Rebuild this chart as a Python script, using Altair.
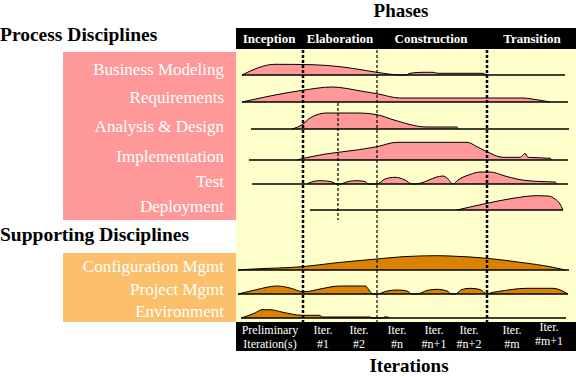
import altair as alt
import pandas as pd

FONT = "Times New Roman, Liberation Serif, serif"
W, H = 576, 377

PINK = "#FF9999"
ORANGE_BOX = "#FCC06C"
ORANGE = "#DA8200"
YELLOW = "#FFFFCC"

# ---------------- data: disciplines and their effort profiles ----------------
process = ["Business Modeling", "Requirements", "Analysis & Design",
           "Implementation", "Test", "Deployment"]
supporting = ["Configuration Mgmt", "Project Mgmt", "Environment"]

bm_t = [242, 275, 312, 340, 377, 390, 400, 406, 410, 422, 433, 438, 482, 487]
bm_h = [0, 10.7, 10.3, 8.3, 2.7, 0.8, 0, 0, 1.7, 2.7, 2.7, 1.7, 1.7, 0]

rq_t = [242, 302, 332, 363, 377, 400, 523, 532, 550]
rq_h = [0, 11.6, 15, 10.6, 8.3, 4, 4, 3, 0]

ad_t = [292, 302, 310, 317, 327, 357, 377, 393, 427, 457, 458]
ad_h = [0, 4.3, 11, 14.3, 16, 16, 14.3, 9.3, 2, 2, 0]

im_t = [297, 308, 377, 397, 467, 477, 487, 503, 520, 523, 525, 528, 550, 552]
im_h = [0, 2.7, 13.3, 17.7, 17.7, 13.3, 8.3, 2.7, 2.7, 5, 6.7, 2.7, 1.7, 0]

te_t = [307, 313, 320, 330, 338, 340, 348, 357, 365, 368, 377, 385, 395, 405,
        412, 415, 443, 447, 453, 458, 470, 480, 490, 505, 518, 540, 555, 557]
te_h = [0, 2.5, 3.3, 2.5, 0, 0, 2.5, 3.3, 2.5, 0, 0, 5, 6.7, 4,
        0, 0, 8, 6, 0, 4, 9.5, 12, 12, 8, 4.7, 2.5, 2, 0]

de_t = [457, 487, 513, 537, 548, 555, 560, 563]
de_h = [0, 6.7, 11.7, 14.3, 14, 11, 6, 0]

cm_t = [238, 250, 302, 337, 377, 403, 437, 450, 487, 523, 550, 565]
cm_h = [0, 0.8, 3.3, 7.3, 11, 13.3, 14.3, 14, 11.7, 7.3, 3.3, 0]

pm_t = [238, 255, 277, 290, 303, 305, 320, 340, 365, 373, 377, 387, 397, 407,
        412, 417, 427, 437, 447, 452, 455, 462, 470, 480, 487, 492, 497, 527,
        553, 568]
pm_h = [0, 4, 8, 6, 2.3, 2.3, 5, 8, 8, 0, 0, 3, 4, 3,
        0, 0, 3.5, 4.7, 3, 0, 0, 4.5, 5.7, 4.5, 0, 1.5, 2.3, 5.7,
        5.7, 0]

en_t = [241, 255, 262, 270, 283, 302, 320, 322, 370, 372, 383, 384, 388, 389]
en_h = [0, 5, 8.3, 8.3, 5.7, 2.7, 2.7, 1, 1, 0, 0, 1, 1, 0]

profiles_t = [bm_t, rq_t, ad_t, im_t, te_t, de_t, cm_t, pm_t, en_t]
profiles_h = [bm_h, rq_h, ad_h, im_h, te_h, de_h, cm_h, pm_h, en_h]

phases = ["Inception", "Elaboration", "Construction", "Transition"]
iter_line1 = ["Preliminary", "Iter.", "Iter.", "Iter.", "Iter.", "Iter.", "Iter.", "Iter."]
iter_line2 = ["Iteration(s)", "#1", "#2", "#n", "#n+1", "#n+2", "#m", "#m+1"]

# ---------------- layout ----------------
names = process + supporting
groups = ["process"] * len(process) + ["supporting"] * len(supporting)
base_y = [75, 102, 129, 160, 184, 210, 270, 294, 318]
line_x0 = [242, 242, 251, 249, 252, 310, 238, 238, 241]
line_x1 = [565, 568, 569, 568, 568, 563, 569, 568, 566]
label_y = [75, 103, 132, 162, 187, 212, 272, 295, 317]

rows = []
for n, g, b, ts, hs in zip(names, groups, base_y, profiles_t, profiles_h):
    for t, h in zip(ts, hs):
        rows.append({"name": n, "group": g, "t": t, "top": b - h, "base": b})
hump_df = pd.DataFrame(rows)

base_df = pd.DataFrame({"name": names, "x0": line_x0, "x1": line_x1, "y": base_y})

xs = alt.Scale(domain=[0, W], range=[0, W], nice=False, zero=False)
ys = alt.Scale(domain=[0, H], range=[0, H], nice=False, zero=False)


def X(f):
    return alt.X(f, type="quantitative", scale=xs, axis=None)


def Y(f):
    return alt.Y(f, type="quantitative", scale=ys, axis=None)


rect_df = pd.DataFrame({
    "x0": [236, 63, 63, 236, 236],
    "x1": [576, 236, 236, 576, 576],
    "y0": [49, 52, 253, 28, 322],
    "y1": [322, 220, 322, 49, 351],
    "fill": [YELLOW, PINK, ORANGE_BOX, "#000000", "#000000"],
})
rects = alt.Chart(rect_df).mark_rect().encode(
    x=X("x0"), x2="x1", y=Y("y0"), y2="y1",
    fill=alt.Fill("fill:N", scale=None),
)

color_scale = alt.Scale(domain=["process", "supporting"], range=[PINK, ORANGE])
areas = alt.Chart(hump_df).mark_area(interpolate="monotone").encode(
    x=X("t"), y=Y("top"), y2="base", detail="name:N",
    color=alt.Color("group:N", scale=color_scale, legend=None),
)
outlines = alt.Chart(hump_df).mark_line(
    interpolate="monotone", color="black", strokeWidth=1
).encode(x=X("t"), y=Y("top"), detail="name:N", order="t:Q")

baselines = alt.Chart(base_df).mark_rule(color="black", strokeWidth=1.3).encode(
    x=X("x0"), x2="x1", y=Y("y")
)

dot_df = pd.DataFrame({
    "x": [303, 487, 377, 338],
    "y0": [50, 50, 50, 103],
    "y1": [322, 322, 322, 220],
    "w": [2.5, 2.5, 1.2, 1.2],
})
dots = alt.Chart(dot_df).mark_rule(color="black", strokeDash=[3, 2]).encode(
    x=X("x"), y=Y("y0"), y2="y1",
    strokeWidth=alt.StrokeWidth("w:Q", scale=None),
)

lab_df = pd.DataFrame({"text": names, "x": [224] * len(names), "y": label_y})
labels = alt.Chart(lab_df).mark_text(
    align="right", baseline="alphabetic", font=FONT, fontSize=17, color="white"
).encode(x=X("x"), y=Y("y"), text="text:N")

head_df = pd.DataFrame({
    "text": ["Process Disciplines", "Supporting Disciplines"],
    "x": [0, 0], "y": [41, 241],
})
heads = alt.Chart(head_df).mark_text(
    align="left", baseline="alphabetic", font=FONT, fontSize=19.5,
    fontWeight="bold", color="black"
).encode(x=X("x"), y=Y("y"), text="text:N")

titles_df = pd.DataFrame({"text": ["Phases", "Iterations"], "x": [401, 409], "y": [17, 372]})
titles = alt.Chart(titles_df).mark_text(
    align="center", baseline="alphabetic", font=FONT, fontSize=19,
    fontWeight="bold", color="black"
).encode(x=X("x"), y=Y("y"), text="text:N")

ph_df = pd.DataFrame({"text": phases, "x": [269, 340, 431, 532], "y": [43] * 4})
ph = alt.Chart(ph_df).mark_text(
    align="center", baseline="alphabetic", font=FONT, fontSize=13,
    fontWeight="bold", color="white"
).encode(x=X("x"), y=Y("y"), text="text:N")

it_x = [270, 323, 359, 397, 434, 469, 512, 549]
it_y1 = [334, 334, 334, 334, 334, 334, 334, 331]
it_y2 = [348, 348, 348, 348, 348, 348, 348, 345]
it_df = pd.DataFrame({
    "text": iter_line1 + iter_line2,
    "x": it_x + it_x,
    "y": it_y1 + it_y2,
})
its = alt.Chart(it_df).mark_text(
    align="center", baseline="alphabetic", font=FONT, fontSize=12, color="white"
).encode(x=X("x"), y=Y("y"), text="text:N")

chart = alt.layer(
    rects, areas, outlines, baselines, dots, labels, heads, titles, ph, its
).properties(
    width=W, height=H, padding=0,
    autosize=alt.AutoSizeParams(type="none"),
    background="white",
).configure_view(stroke=None)

chart.save("out.html", embed_options={"renderer": "svg", "actions": False})
